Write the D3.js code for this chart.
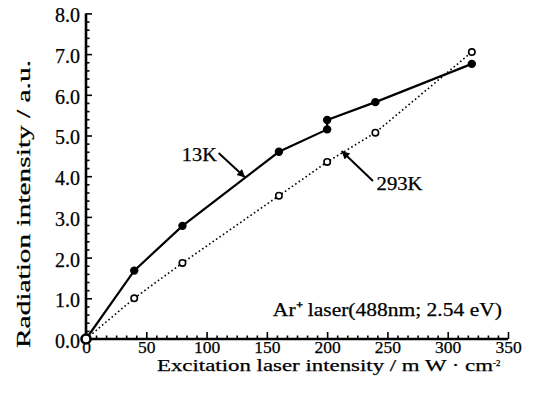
<!DOCTYPE html>
<html>
<head>
<meta charset="utf-8">
<script src="https://cdn.jsdelivr.net/npm/d3@7/dist/d3.min.js"></script>
<style>
  html, body { margin: 0; padding: 0; background: #fff; }
  svg { display: block; }
  text { font-family: "Liberation Serif", "Times New Roman", Times, serif; fill: #000; }
</style>
</head>
<body>
<svg id="chart" width="535" height="393"></svg>
<script>
// ---- data ----
const x13K = [0, 40, 80, 160, 200, 200, 240, 320];
const y13K = [0, 1.68, 2.78, 4.60, 5.15, 5.38, 5.82, 6.76];
const x293K = [0, 40, 80, 160, 200, 240, 320];
const y293K = [0, 1.00, 1.87, 3.52, 4.35, 5.07, 7.05];
const xTicks = [0, 50, 100, 150, 200, 250, 300, 350];
const xTickLabels = ["0", "50", "100", "150", "200", "250", "300", "350"];
const yTicks = [0, 1, 2, 3, 4, 5, 6, 7, 8];
const yTickLabels = ["0.0", "1.0", "2.0", "3.0", "4.0", "5.0", "6.0", "7.0", "8.0"];
const xTitle = "Excitation laser intensity / m W · cm";
const xTitleSup = "-2";
const yTitle = "Radiation intensity / a.u.";
const laserNote = "Ar⁺ laser(488nm; 2.54 eV)";
// annotation anchors (data units)
const label13K = { text: "13K", x: 108.5, y: 4.37, tail: [110, 4.57], tip: [132, 3.97] };
const label293K = { text: "293K", x: 241, y: 3.66, tail: [238, 3.88], tip: [212, 4.62] };
const notePos = { x: 155, y: 0.57 };

// ---- layout ----
const svg = d3.select("#chart");
const W = 535, H = 393;
const margin = { left: 86, right: 27, top: 13.4, bottom: 54 };
const x = d3.scaleLinear().domain([0, 350]).range([margin.left, W - margin.right]);
const y = d3.scaleLinear().domain([0, 8]).range([H - margin.bottom, margin.top]);

// minor ticks
const xMinor = d3.range(0, 351, 50 / 6).filter(v => xTicks.every(t => Math.abs(t - v) > 1e-6));
const yMinor = d3.range(0, 8.001, 0.2).filter(v => yTicks.every(t => Math.abs(t - v) > 1e-6));

const gx = svg.append("g").attr("transform", `translate(0,${y(0)})`);
gx.call(d3.axisBottom(x).tickValues(xMinor).tickFormat("").tickSizeInner(-3.5).tickSizeOuter(0))
  .call(g => g.select(".domain").remove());
gx.append("g").call(d3.axisBottom(x).tickValues(xTicks).tickFormat((d, i) => xTickLabels[i])
    .tickSizeInner(-7).tickSizeOuter(0).tickPadding(3))
  .call(g => g.select(".domain").remove())
  .call(g => g.selectAll("text").attr("font-size", 17.5).attr("fill", "#000").attr("dy", "0.62em")
        .attr("stroke", "#000").attr("stroke-width", 0.25));

const gy = svg.append("g").attr("transform", `translate(${x(0)},0)`);
gy.call(d3.axisLeft(y).tickValues(yMinor).tickFormat("").tickSizeInner(-3.5).tickSizeOuter(0))
  .call(g => g.select(".domain").remove());
gy.append("g").call(d3.axisLeft(y).tickValues(yTicks).tickFormat((d, i) => yTickLabels[i])
    .tickSizeInner(-6).tickSizeOuter(0).tickPadding(6))
  .call(g => g.select(".domain").remove())
  .call(g => g.selectAll("text").attr("font-size", 20).attr("fill", "#000").attr("dy", "0.42em")
        .attr("stroke", "#000").attr("stroke-width", 0.25));

svg.selectAll(".tick line").attr("stroke", "#000").attr("stroke-width", 1.6);

// axis lines
svg.append("line").attr("x1", x(0)).attr("x2", x(350)).attr("y1", y(0)).attr("y2", y(0))
  .attr("stroke", "#000").attr("stroke-width", 2.6);
svg.append("line").attr("x1", x(0)).attr("x2", x(0)).attr("y1", y(0) + 1.3).attr("y2", y(8))
  .attr("stroke", "#000").attr("stroke-width", 2.6);

// lines
const line = d3.line().x(d => x(d[0])).y(d => y(d[1]));
const d13 = x13K.map((v, i) => [v, y13K[i]]);
const d293 = x293K.map((v, i) => [v, y293K[i]]);
svg.append("path").datum(d293).attr("d", line).attr("fill", "none")
  .attr("stroke", "#000").attr("stroke-width", 1.6).attr("stroke-dasharray", "1.6,2.6");
svg.append("path").datum(d13).attr("d", line).attr("fill", "none")
  .attr("stroke", "#000").attr("stroke-width", 2.2);

// markers
svg.append("g").selectAll("circle").data(d13.slice(1)).join("circle")
  .attr("cx", d => x(d[0])).attr("cy", d => y(d[1])).attr("r", 4.2).attr("fill", "#000");
svg.append("g").selectAll("circle").data(d293).join("circle")
  .attr("cx", d => x(d[0])).attr("cy", d => y(d[1]))
  .attr("r", (d, i) => i === 0 ? 4.5 : 3.2)
  .attr("fill", "#fff").attr("stroke", "#000").attr("stroke-width", (d, i) => i === 0 ? 2.6 : 1.6);

// arrow marker
const defs = svg.append("defs");
defs.append("marker").attr("id", "arr").attr("viewBox", "0 0 10 10")
  .attr("refX", 10).attr("refY", 5)
  .attr("markerUnits", "userSpaceOnUse").attr("orient", "auto")
  .attr("markerWidth", 11).attr("markerHeight", 8)
  .append("path").attr("d", "M0,0 L10,5 L0,10 Z").attr("fill", "#000");

[label13K, label293K].forEach(a => {
  svg.append("line").attr("x1", x(a.tail[0])).attr("y1", y(a.tail[1]))
    .attr("x2", x(a.tip[0])).attr("y2", y(a.tip[1]))
    .attr("stroke", "#000").attr("stroke-width", 2).attr("marker-end", "url(#arr)");
});

function txt(t, px, py, size, len, anchor) {
  return svg.append("text").attr("x", px).attr("y", py).attr("font-size", size)
    .attr("text-anchor", anchor || "start").attr("stroke", "#000").attr("stroke-width", 0.25)
    .attr("textLength", len).attr("lengthAdjust", "spacingAndGlyphs").text(t);
}
txt(label13K.text, x(label13K.x) - 35, y(label13K.y), 18, 35);
txt(label293K.text, x(label293K.x), y(label293K.y), 18, 46);
txt(laserNote, x(notePos.x), y(notePos.y), 19, 229);

// axis titles
const xt = svg.append("text").attr("x", 157).attr("y", 371).attr("font-size", 17)
  .attr("stroke", "#000").attr("stroke-width", 0.25);
xt.append("tspan").attr("textLength", 336).attr("lengthAdjust", "spacingAndGlyphs").text(xTitle);
xt.append("tspan").attr("dy", -5).attr("font-size", 9).text(xTitleSup);

svg.append("text").attr("transform", `translate(30,${(60 + 348) / 2}) rotate(-90)`)
  .attr("text-anchor", "middle").attr("font-size", 19)
  .attr("stroke", "#000").attr("stroke-width", 0.25)
  .attr("textLength", 288).attr("lengthAdjust", "spacingAndGlyphs").text(yTitle);
</script>
</body>
</html>
